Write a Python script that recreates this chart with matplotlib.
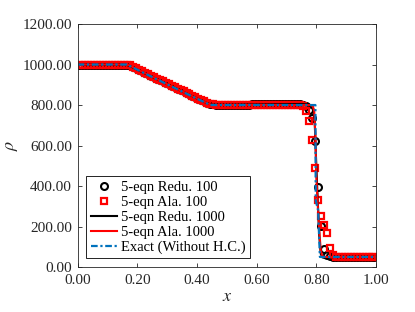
import matplotlib
matplotlib.use('Agg')
import matplotlib.pyplot as plt
import numpy as np

plt.rcParams['font.family'] = 'Liberation Serif'
plt.rcParams['mathtext.fontset'] = 'stix'
plt.rcParams['figure.dpi'] = 100

# 100-cell results (cell centres)
x100 = np.linspace(0.005, 0.995, 100)
rho_redu_100 = [
    1000, 1000, 1000, 1000, 1000, 1000, 1000, 1000, 1000, 1000,
    1000, 1000, 1000, 1000, 1000, 1000, 999, 996, 990, 982,
    974, 967, 960, 952, 945, 938, 931, 924, 917, 910,
    902, 895, 888, 881, 874, 867, 860, 853, 846, 839,
    832, 825, 818, 812, 807, 804, 802, 801, 800, 800,
    800, 800, 800, 800, 801, 801, 802, 802, 803, 803,
    804, 804, 804, 804, 804, 804, 804, 804, 804, 804,
    804, 804, 804, 804, 803, 800, 795, 776, 738, 624,
    393, 201, 88, 62, 53, 50, 50, 50, 50, 50,
    50, 50, 50, 50, 50, 50, 50, 50, 50, 50]
rho_ala_100 = [
    1000, 1000, 1000, 1000, 1000, 1000, 1000, 1000, 1000, 1000,
    1000, 1000, 1000, 1000, 1000, 1000, 999, 996, 990, 982,
    974, 967, 960, 952, 945, 938, 931, 924, 917, 910,
    902, 895, 888, 881, 874, 867, 860, 853, 846, 839,
    832, 825, 818, 812, 807, 804, 802, 801, 800, 800,
    800, 800, 800, 800, 800, 800, 801, 801, 801, 801,
    801, 801, 801, 801, 801, 801, 801, 801, 801, 801,
    801, 801, 801, 800, 798, 796, 771, 722, 629, 489,
    330, 254, 210, 166, 93, 58, 52, 50, 50, 50,
    50, 50, 50, 50, 50, 50, 50, 50, 50, 50]

# 1000-cell results
x_redu_1000 = [0.0, 0.155, 0.165, 0.175, 0.19, 0.3, 0.43, 0.44, 0.455, 0.5, 0.6,
               0.7, 0.75, 0.775, 0.785, 0.79, 0.795, 0.8, 0.805, 0.81, 0.815,
               0.82, 0.83, 0.84, 0.86, 1.0]
rho_redu_1000 = [1000, 1000, 998, 993, 982, 903, 812, 806, 801, 801, 803,
                 805, 805, 803, 796, 780, 700, 500, 320, 150, 65,
                 48, 44, 46, 50, 50]
x_ala_1000 = [0.0, 0.16, 0.168, 0.175, 0.19, 0.3, 0.435, 0.445, 0.455, 0.5, 0.6,
              0.7, 0.78, 0.788, 0.793, 0.797, 0.8, 0.805, 0.81, 0.815, 0.82,
              0.83, 1.0]
rho_ala_1000 = [1000, 1000, 998, 994, 984, 903, 809, 803, 800, 800, 801,
                801, 800, 796, 770, 650, 450, 300, 180, 80, 55,
                50, 50]

# exact solution (without heat conduction)
x_exact = [0.0, 0.165, 0.235, 0.305, 0.375, 0.445, 0.797, 0.798, 0.806, 0.812, 1.0]
rho_exact = [1000, 1000, 949, 899, 849, 800, 800, 330, 280, 50, 50]

fig = plt.figure(figsize=(4.15, 3.12))
ax = fig.add_axes([0.187, 0.144, 0.719, 0.779])

ax.plot(x100, rho_redu_100, 'o', color='k', mfc='none', ms=5, mew=1.5,
        label='5-eqn Redu. 100')
ax.plot(x100, rho_ala_100, 's', color='r', mfc='none', ms=4.8, mew=1.6,
        label='5-eqn Ala. 100')
ax.plot(x_redu_1000, rho_redu_1000, '-', color='k', lw=1.5, label='5-eqn Redu. 1000')
ax.plot(x_ala_1000, rho_ala_1000, '-', color='r', lw=1.5, label='5-eqn Ala. 1000')
ax.plot(x_exact, rho_exact, '-.', color='#0072BD', lw=1.6, dashes=(3, 1.2, 1, 1.2),
        label='Exact (Without H.C.)')

ax.set_xlim(0, 1)
ax.set_ylim(0, 1200)
ax.set_xticks([0, 0.2, 0.4, 0.6, 0.8, 1.0])
ax.set_yticks([0, 200, 400, 600, 800, 1000, 1200])
ax.xaxis.set_major_formatter(matplotlib.ticker.FormatStrFormatter('%.2f'))
ax.yaxis.set_major_formatter(matplotlib.ticker.FormatStrFormatter('%.2f'))
ax.tick_params(direction='in', top=True, right=True, length=3, width=0.6,
               labelsize=11, colors='#262626', labelcolor='#262626')
ax.tick_params(axis='y', pad=4)
ax.tick_params(axis='x', pad=5)
for s in ax.spines.values():
    s.set_color('#262626')
    s.set_linewidth(0.6)

ax.set_xlabel(r'$x$', fontsize=13, color='#262626', labelpad=1)
ax.set_ylabel(r'$\rho$', fontsize=13, color='#262626', labelpad=2)

leg = ax.legend(loc='lower left', fontsize=10.5, numpoints=1, handlelength=1.8,
                handletextpad=0.25, borderaxespad=0.6, labelspacing=0.12,
                borderpad=0.3, fancybox=False, framealpha=1)
leg.get_frame().set_edgecolor('k')
leg.get_frame().set_linewidth(0.6)

fig.savefig('out.png', dpi=100)
